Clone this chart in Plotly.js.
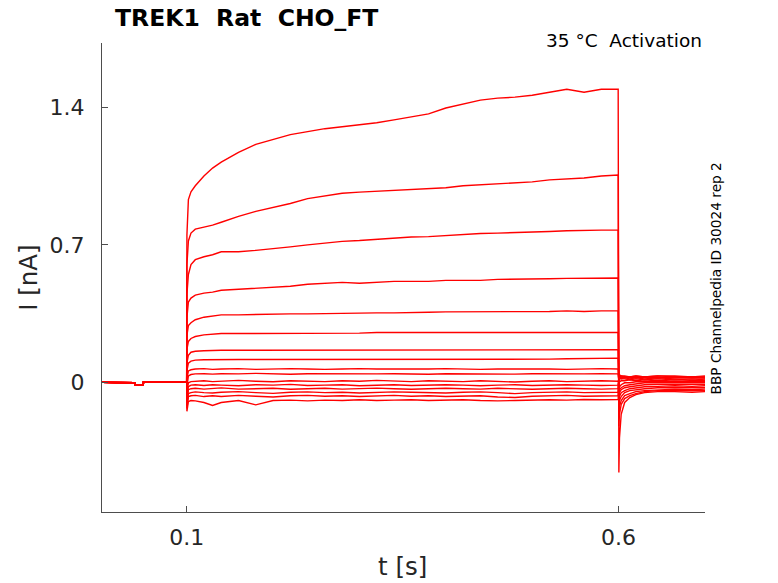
<!DOCTYPE html>
<html>
<head>
<meta charset="utf-8">
<script src="https://cdn.plot.ly/plotly-3.0.1.min.js"></script>
<style>html,body{margin:0;padding:0;background:#fff;}#chart{width:778px;height:583px;}</style>
</head>
<body>
<div id="chart"></div>
<script>
// time samples (s)
const preT = [0, 0.02, 0.0403, 0.0405, 0.0498, 0.05, 0.07, 0.0998];
const preI = [0.002, 0.0, 0.0, -0.012, -0.012, 0.004, 0.003, 0.003];
const pulseT = [0.1, 0.1003, 0.102, 0.105, 0.11, 0.12, 0.13, 0.14, 0.16, 0.18, 0.2, 0.22, 0.24, 0.26, 0.28, 0.3, 0.32, 0.34, 0.36, 0.38, 0.4, 0.42, 0.44, 0.46, 0.48, 0.5, 0.52, 0.54, 0.56, 0.58, 0.5995];
const postT = [0.6003, 0.601, 0.603, 0.607, 0.613, 0.62, 0.63, 0.645, 0.665, 0.685, 0.7];

// current during the pulse (nA)
const pulse01 = [0.003, 0.75, 0.93, 0.97, 1.00, 1.05, 1.09, 1.12, 1.17, 1.21, 1.235, 1.26, 1.275, 1.29, 1.30, 1.31, 1.32, 1.335, 1.35, 1.365, 1.395, 1.415, 1.435, 1.445, 1.45, 1.46, 1.475, 1.49, 1.475, 1.49, 1.49];
const pulse02 = [0.003, 0.60, 0.72, 0.76, 0.78, 0.79, 0.80, 0.815, 0.845, 0.87, 0.89, 0.91, 0.935, 0.95, 0.962, 0.968, 0.972, 0.978, 0.982, 0.986, 0.99, 1.0, 1.005, 1.01, 1.015, 1.02, 1.03, 1.035, 1.04, 1.05, 1.055];
const pulse03 = [0.003, 0.45, 0.55, 0.60, 0.625, 0.64, 0.65, 0.665, 0.665, 0.672, 0.68, 0.69, 0.70, 0.71, 0.718, 0.722, 0.728, 0.735, 0.74, 0.742, 0.748, 0.755, 0.758, 0.76, 0.762, 0.765, 0.768, 0.772, 0.775, 0.775, 0.775];
const pulse04 = [0.003, 0.33, 0.41, 0.43, 0.445, 0.455, 0.46, 0.47, 0.475, 0.482, 0.486, 0.49, 0.50, 0.505, 0.51, 0.505, 0.51, 0.515, 0.515, 0.515, 0.52, 0.52, 0.52, 0.525, 0.525, 0.525, 0.528, 0.53, 0.53, 0.53, 0.532];
const pulse05 = [0.003, 0.24, 0.29, 0.305, 0.32, 0.333, 0.34, 0.345, 0.345, 0.347, 0.35, 0.35, 0.35, 0.352, 0.352, 0.355, 0.355, 0.355, 0.358, 0.358, 0.36, 0.36, 0.36, 0.36, 0.362, 0.362, 0.362, 0.365, 0.362, 0.365, 0.365];
const pulse06 = [0.003, 0.17, 0.21, 0.225, 0.235, 0.243, 0.248, 0.25, 0.25, 0.25, 0.25, 0.25, 0.25, 0.252, 0.252, 0.252, 0.255, 0.255, 0.255, 0.255, 0.258, 0.255, 0.255, 0.255, 0.255, 0.255, 0.255, 0.255, 0.255, 0.255, 0.255];
const pulse07 = [0.003, 0.10, 0.14, 0.155, 0.16, 0.163, 0.165, 0.165, 0.165, 0.165, 0.165, 0.165, 0.165, 0.165, 0.165, 0.165, 0.165, 0.165, 0.165, 0.165, 0.165, 0.165, 0.168, 0.168, 0.168, 0.168, 0.168, 0.168, 0.168, 0.168, 0.168];
const pulse08 = [0.003, 0.06, 0.10, 0.11, 0.115, 0.117, 0.118, 0.118, 0.118, 0.118, 0.118, 0.118, 0.118, 0.118, 0.118, 0.118, 0.118, 0.118, 0.118, 0.118, 0.12, 0.12, 0.12, 0.12, 0.12, 0.12, 0.12, 0.122, 0.124, 0.125, 0.125];
const pulse09 = [0.003, 0.02, 0.06, 0.066, 0.07, 0.072, 0.068, 0.07, 0.072, 0.068, 0.07, 0.072, 0.07, 0.068, 0.07, 0.072, 0.07, 0.07, 0.068, 0.07, 0.072, 0.07, 0.068, 0.07, 0.07, 0.072, 0.07, 0.068, 0.07, 0.072, 0.07];
const pulse10 = [0.003, -0.02, 0.035, 0.042, 0.045, 0.046, 0.044, 0.046, 0.045, 0.048, 0.045, 0.043, 0.046, 0.045, 0.047, 0.044, 0.045, 0.046, 0.045, 0.043, 0.046, 0.045, 0.047, 0.045, 0.044, 0.046, 0.045, 0.047, 0.045, 0.046, 0.045];
const pulse11 = [0.003, -0.05, 0.0, 0.006, 0.008, 0.01, 0.006, 0.008, 0.012, 0.008, 0.005, 0.01, 0.008, 0.006, 0.01, 0.008, 0.012, 0.008, 0.006, 0.01, 0.008, 0.006, 0.01, 0.008, 0.004, 0.008, 0.01, 0.006, 0.008, 0.01, 0.008];
const pulse12 = [0.003, -0.08, -0.02, -0.012, -0.01, -0.014, -0.01, -0.012, -0.015, -0.01, -0.012, -0.008, -0.014, -0.012, -0.01, -0.015, -0.012, -0.01, -0.014, -0.012, -0.01, -0.012, -0.015, -0.012, -0.01, -0.014, -0.012, -0.01, -0.012, -0.014, -0.012];
const pulse13 = [0.003, -0.10, -0.035, -0.03, -0.028, -0.032, -0.03, -0.026, -0.032, -0.03, -0.028, -0.033, -0.03, -0.028, -0.032, -0.03, -0.027, -0.03, -0.033, -0.03, -0.028, -0.03, -0.032, -0.028, -0.03, -0.033, -0.03, -0.028, -0.03, -0.032, -0.03];
const pulse14 = [0.003, -0.115, -0.055, -0.05, -0.046, -0.05, -0.052, -0.048, -0.045, -0.05, -0.054, -0.048, -0.046, -0.05, -0.048, -0.052, -0.05, -0.046, -0.048, -0.05, -0.052, -0.048, -0.046, -0.05, -0.055, -0.05, -0.048, -0.046, -0.05, -0.048, -0.048];
const pulse15 = [0.003, -0.13, -0.07, -0.066, -0.064, -0.07, -0.066, -0.07, -0.064, -0.068, -0.072, -0.066, -0.064, -0.068, -0.066, -0.07, -0.066, -0.064, -0.068, -0.066, -0.07, -0.068, -0.066, -0.072, -0.075, -0.068, -0.066, -0.064, -0.068, -0.066, -0.066];
const pulse16 = [0.003, -0.145, -0.095, -0.09, -0.092, -0.1, -0.115, -0.1, -0.09, -0.112, -0.09, -0.088, -0.092, -0.088, -0.09, -0.086, -0.09, -0.088, -0.086, -0.09, -0.088, -0.086, -0.09, -0.092, -0.09, -0.088, -0.086, -0.088, -0.085, -0.086, -0.085];

// tail current after the pulse (nA)
const post01 = [-0.456, -0.28, -0.16, -0.10, -0.075, -0.06, -0.05, -0.045, -0.045, -0.048, -0.045];
const post02 = [-0.22, -0.16, -0.11, -0.08, -0.065, -0.055, -0.045, -0.04, -0.04, -0.042, -0.04];
const post03 = [-0.16, -0.12, -0.09, -0.065, -0.055, -0.045, -0.04, -0.035, -0.032, -0.035, -0.032];
const post04 = [-0.12, -0.09, -0.07, -0.05, -0.04, -0.035, -0.03, -0.025, -0.025, -0.028, -0.025];
const post05 = [-0.09, -0.07, -0.05, -0.04, -0.03, -0.025, -0.02, -0.018, -0.015, -0.018, -0.015];
const post06 = [-0.07, -0.05, -0.035, -0.025, -0.02, -0.015, -0.01, -0.008, -0.008, -0.01, -0.008];
const post07 = [-0.05, -0.035, -0.025, -0.015, -0.01, -0.005, 0.0, 0.0, 0.0, 0.0, 0.0];
const post08 = [-0.03, -0.02, -0.01, 0.0, 0.0, 0.005, 0.005, 0.008, 0.005, 0.008, 0.005];
const post09 = [0.0, 0.005, 0.01, 0.01, 0.015, 0.01, 0.015, 0.01, 0.015, 0.01, 0.01];
const post10 = [0.015, 0.02, 0.02, 0.02, 0.015, 0.02, 0.015, 0.02, 0.015, 0.02, 0.015];
const post11 = [0.025, 0.025, 0.02, 0.025, 0.02, 0.025, 0.02, 0.025, 0.02, 0.02, 0.02];
const post12 = [0.03, 0.03, 0.025, 0.03, 0.025, 0.03, 0.025, 0.025, 0.03, 0.025, 0.025];
const post13 = [0.035, 0.03, 0.03, 0.025, 0.03, 0.025, 0.03, 0.03, 0.025, 0.03, 0.025];
const post14 = [0.04, 0.035, 0.03, 0.03, 0.025, 0.03, 0.03, 0.025, 0.03, 0.03, 0.03];
const post15 = [0.04, 0.035, 0.035, 0.03, 0.03, 0.035, 0.03, 0.035, 0.03, 0.03, 0.03];
const post16 = [0.04, 0.04, 0.035, 0.035, 0.03, 0.035, 0.03, 0.035, 0.035, 0.03, 0.035];

const xTickVals = [0.1, 0.6];
const xTickText = ['0.1', '0.6'];
const yTickVals = [0, 0.7, 1.4];
const yTickText = ['0', '0.7', '1.4'];

const pulses = [pulse01, pulse02, pulse03, pulse04, pulse05, pulse06, pulse07, pulse08, pulse09, pulse10, pulse11, pulse12, pulse13, pulse14, pulse15, pulse16];
const posts = [post01, post02, post03, post04, post05, post06, post07, post08, post09, post10, post11, post12, post13, post14, post15, post16];

const tAll = preT.concat(pulseT, postT);
const data = pulses.map((p, i) => ({
  type: 'scatter', mode: 'lines',
  x: tAll,
  y: preI.concat(p, posts[i]),
  line: {color: '#ff0000', width: 1.4},
  hoverinfo: 'skip'
}));

const font = 'DejaVu Sans, Verdana, sans-serif';
const axisCommon = {
  showgrid: false, zeroline: false, showline: true,
  linecolor: '#4d4d4d', linewidth: 1,
  ticks: 'inside', ticklen: 6, tickcolor: '#4d4d4d', tickwidth: 1,
  tickfont: {family: font, size: 22, color: '#262626'},
  fixedrange: true
};

const layout = {
  width: 778, height: 583,
  margin: {l: 101.7, r: 73, t: 43.3, b: 70.5, pad: 0},
  paper_bgcolor: '#ffffff', plot_bgcolor: '#ffffff',
  showlegend: false,
  xaxis: Object.assign({}, axisCommon, {
    range: [0.002, 0.7], tickmode: 'array', tickvals: xTickVals, ticktext: xTickText,
    ticklabelstandoff: 6
  }),
  yaxis: Object.assign({}, axisCommon, {
    range: [-0.656, 1.725], tickmode: 'array', tickvals: yTickVals, ticktext: yTickText,
    ticklabelstandoff: 12
  }),
  annotations: [
    {text: '<b>TREK1&nbsp;&nbsp;Rat&nbsp;&nbsp;CHO_FT</b>', xref: 'paper', yref: 'paper', x: (113 - 101.7) / 603.3, y: 1 + (43.3 - 18) / 469.2,
     xanchor: 'left', yanchor: 'middle', showarrow: false, font: {family: font, size: 23.5, color: '#000000'}},
    {text: '35 °C&nbsp;&nbsp;Activation', xref: 'paper', yref: 'paper', x: (704 - 101.7) / 603.3, y: 1 + (43.3 - 41) / 469.2,
     xanchor: 'right', yanchor: 'middle', showarrow: false, font: {family: font, size: 18.5, color: '#000000'}},
    {text: 'BBP Channelpedia ID 30024 rep 2', xref: 'paper', yref: 'paper', x: (716 - 101.7) / 603.3, y: 0.498,
     xanchor: 'center', yanchor: 'middle', textangle: -90, showarrow: false, font: {family: font, size: 13.7, color: '#000000'}},
    {text: 'I [nA]', xref: 'paper', yref: 'paper', x: (28 - 101.7) / 603.3, y: 0.5,
     xanchor: 'center', yanchor: 'middle', textangle: -90, showarrow: false, font: {family: font, size: 24.5, color: '#262626'}},
    {text: 't [s]', xref: 'paper', yref: 'paper', x: 0.498, y: (512.5 - 567) / 469.2,
     xanchor: 'center', yanchor: 'middle', showarrow: false, font: {family: font, size: 24.5, color: '#262626'}}
  ]
};

Plotly.newPlot('chart', data, layout, {displayModeBar: false, staticPlot: true});
</script>
</body>
</html>
